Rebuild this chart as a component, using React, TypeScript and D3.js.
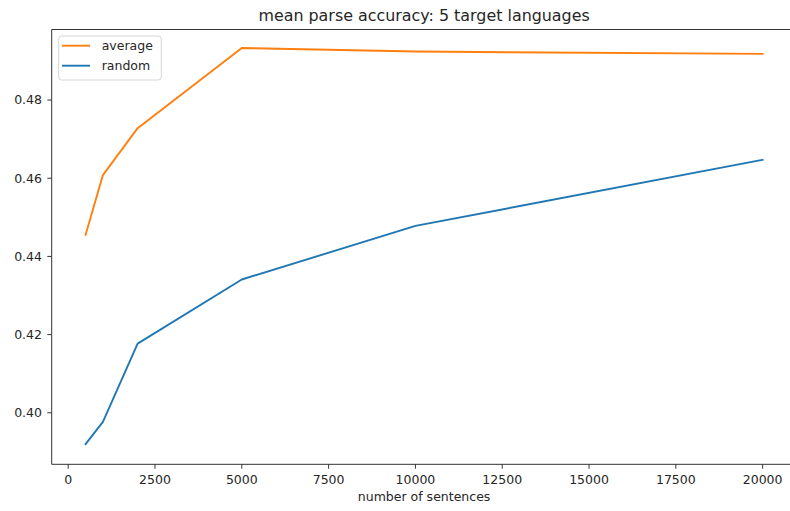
import React from "react";
import * as d3 from "d3";

const sentences = [500, 1000, 2000, 5000, 10000, 20000];
const averageAcc = [0.4455, 0.4608, 0.4728, 0.4933, 0.4924, 0.4918];
const randomAcc = [0.392, 0.3977, 0.4177, 0.4341, 0.4478, 0.4647];
const xTicks = [0, 2500, 5000, 7500, 10000, 12500, 15000, 17500, 20000];
const yTicks = [0.4, 0.42, 0.44, 0.46, 0.48];
const seriesNames = ["average", "random"];
const seriesColors = ["#ff7f0e", "#1f77b4"];

const W = 790;
const H = 511;
const left = 51.7;
const top = 29.5;
const bottom = 464.3;
const right = 796.5;

export default function App() {
  const x = d3.scaleLinear().domain([-475, 20975]).range([left, right]);
  const y = d3.scaleLinear().domain([0.38683, 0.49804]).range([bottom, top]);
  const line = d3
    .line<[number, number]>()
    .x((d) => x(d[0]))
    .y((d) => y(d[1]));
  const series = [averageAcc, randomAcc];
  const font = "DejaVu Sans, sans-serif";
  const axisColor = "#333";
  return (
    <div style={{ position: "absolute", left: 0, top: 0 }}>
      <svg width={W} height={H} style={{ display: "block", background: "#fff" }} fontFamily={font}>
        <rect x={0} y={0} width={W} height={H} fill="#fff" />
        {series.map((s, i) => (
          <path
            key={i}
            d={line(sentences.map((v, j) => [v, s[j]] as [number, number])) || ""}
            fill="none"
            stroke={seriesColors[i]}
            strokeWidth={1.9}
            strokeLinejoin="round"
            strokeLinecap="square"
          />
        ))}
        {/* spines */}
        <line x1={left} x2={left} y1={top} y2={bottom} stroke={axisColor} strokeWidth={1} />
        <line x1={left} x2={W} y1={bottom} y2={bottom} stroke={axisColor} strokeWidth={1} />
        <line x1={left} x2={W} y1={top} y2={top} stroke={axisColor} strokeWidth={1} />
        {xTicks.map((t) => (
          <g key={t}>
            <line x1={x(t)} x2={x(t)} y1={bottom} y2={bottom + 4.4} stroke={axisColor} strokeWidth={1} />
            <text x={x(t)} y={484} textAnchor="middle" fontSize={12.5} fill="#262626">
              {t}
            </text>
          </g>
        ))}
        {yTicks.map((t) => (
          <g key={t}>
            <line x1={left - 4.4} x2={left} y1={y(t)} y2={y(t)} stroke={axisColor} strokeWidth={1} />
            <text x={42} y={y(t)} dy="0.35em" textAnchor="end" fontSize={12.5} fill="#262626">
              {t.toFixed(2)}
            </text>
          </g>
        ))}
        <text x={(left + right) / 2} y={20.5} textAnchor="middle" fontSize={15.9} fill="#262626">
          mean parse accuracy: 5 target languages
        </text>
        <text x={(left + right) / 2} y={501} textAnchor="middle" fontSize={12.5} fill="#262626">
          number of sentences
        </text>
        {/* legend */}
        <rect x={58.7} y={36} width={102.6} height={44} rx={3} fill="#fff" fillOpacity={0.8} stroke="#d6d6d6" strokeWidth={1} />
        {seriesNames.map((n, i) => (
          <g key={n}>
            <line x1={62} x2={90} y1={45.7 + i * 20} y2={45.7 + i * 20} stroke={seriesColors[i]} strokeWidth={1.9} />
            <text x={101.7} y={45.7 + i * 20} dy="0.35em" fontSize={12.5} fill="#262626">
              {n}
            </text>
          </g>
        ))}
      </svg>
    </div>
  );
}
